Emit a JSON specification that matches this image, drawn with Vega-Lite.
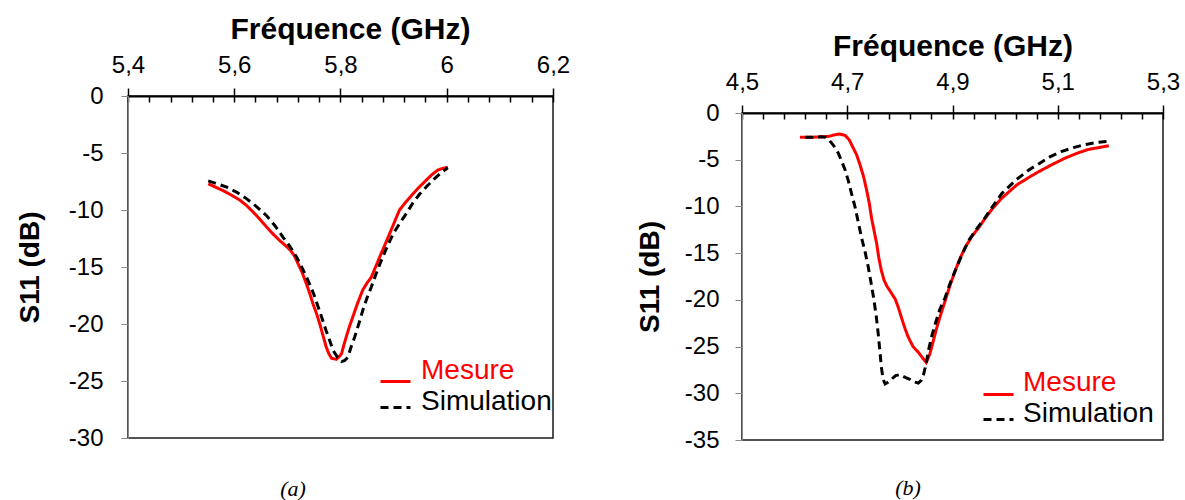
{
  "$schema": "https://vega.github.io/schema/vega-lite/v6.json",
  "background": "white",
  "padding": {"left": 15, "top": 12, "right": 0, "bottom": 0},
  "config": {
    "font": "Liberation Sans",
    "view": {"stroke": "#1a1a1a", "strokeWidth": 1.5},
    "axis": {"grid": false, "labelFont": "Liberation Sans", "titleFont": "Liberation Sans", "labelColor": "#000", "titleColor": "#000"}
  },
  "datasets": {
    "a": [
      {"f": 5.551, "s": -7.7, "serie": "Mesure"},
      {"f": 5.565, "s": -8.0, "serie": "Mesure"},
      {"f": 5.579, "s": -8.3, "serie": "Mesure"},
      {"f": 5.595, "s": -8.7, "serie": "Mesure"},
      {"f": 5.611, "s": -9.15, "serie": "Mesure"},
      {"f": 5.623, "s": -9.6, "serie": "Mesure"},
      {"f": 5.636, "s": -10.2, "serie": "Mesure"},
      {"f": 5.648, "s": -10.8, "serie": "Mesure"},
      {"f": 5.661, "s": -11.5, "serie": "Mesure"},
      {"f": 5.673, "s": -12.1, "serie": "Mesure"},
      {"f": 5.686, "s": -12.7, "serie": "Mesure"},
      {"f": 5.696, "s": -13.1, "serie": "Mesure"},
      {"f": 5.705, "s": -13.5, "serie": "Mesure"},
      {"f": 5.713, "s": -14.0, "serie": "Mesure"},
      {"f": 5.72, "s": -14.7, "serie": "Mesure"},
      {"f": 5.728, "s": -15.5, "serie": "Mesure"},
      {"f": 5.736, "s": -16.5, "serie": "Mesure"},
      {"f": 5.742, "s": -17.3, "serie": "Mesure"},
      {"f": 5.748, "s": -18.2, "serie": "Mesure"},
      {"f": 5.755, "s": -19.1, "serie": "Mesure"},
      {"f": 5.761, "s": -20.0, "serie": "Mesure"},
      {"f": 5.767, "s": -21.0, "serie": "Mesure"},
      {"f": 5.773, "s": -22.0, "serie": "Mesure"},
      {"f": 5.778, "s": -22.6, "serie": "Mesure"},
      {"f": 5.783, "s": -23.0, "serie": "Mesure"},
      {"f": 5.792, "s": -23.1, "serie": "Mesure"},
      {"f": 5.797, "s": -22.9, "serie": "Mesure"},
      {"f": 5.802, "s": -22.6, "serie": "Mesure"},
      {"f": 5.806, "s": -21.9, "serie": "Mesure"},
      {"f": 5.811, "s": -21.1, "serie": "Mesure"},
      {"f": 5.817, "s": -20.2, "serie": "Mesure"},
      {"f": 5.823, "s": -19.4, "serie": "Mesure"},
      {"f": 5.832, "s": -18.2, "serie": "Mesure"},
      {"f": 5.842, "s": -17.0, "serie": "Mesure"},
      {"f": 5.85, "s": -16.4, "serie": "Mesure"},
      {"f": 5.858, "s": -15.9, "serie": "Mesure"},
      {"f": 5.866, "s": -15.0, "serie": "Mesure"},
      {"f": 5.874, "s": -14.1, "serie": "Mesure"},
      {"f": 5.885, "s": -12.9, "serie": "Mesure"},
      {"f": 5.895, "s": -11.8, "serie": "Mesure"},
      {"f": 5.903, "s": -10.9, "serie": "Mesure"},
      {"f": 5.911, "s": -10.0, "serie": "Mesure"},
      {"f": 5.923, "s": -9.3, "serie": "Mesure"},
      {"f": 5.936, "s": -8.6, "serie": "Mesure"},
      {"f": 5.948, "s": -8.0, "serie": "Mesure"},
      {"f": 5.961, "s": -7.4, "serie": "Mesure"},
      {"f": 5.972, "s": -6.9, "serie": "Mesure"},
      {"f": 5.983, "s": -6.5, "serie": "Mesure"},
      {"f": 5.992, "s": -6.35, "serie": "Mesure"},
      {"f": 6.002, "s": -6.25, "serie": "Mesure"},
      {"f": 5.551, "s": -7.45, "serie": "Simulation"},
      {"f": 5.568, "s": -7.7, "serie": "Simulation"},
      {"f": 5.586, "s": -8.0, "serie": "Simulation"},
      {"f": 5.605, "s": -8.45, "serie": "Simulation"},
      {"f": 5.623, "s": -9.0, "serie": "Simulation"},
      {"f": 5.642, "s": -9.7, "serie": "Simulation"},
      {"f": 5.661, "s": -10.5, "serie": "Simulation"},
      {"f": 5.677, "s": -11.4, "serie": "Simulation"},
      {"f": 5.692, "s": -12.4, "serie": "Simulation"},
      {"f": 5.705, "s": -13.2, "serie": "Simulation"},
      {"f": 5.717, "s": -14.1, "serie": "Simulation"},
      {"f": 5.728, "s": -15.1, "serie": "Simulation"},
      {"f": 5.739, "s": -16.2, "serie": "Simulation"},
      {"f": 5.749, "s": -17.3, "serie": "Simulation"},
      {"f": 5.758, "s": -18.5, "serie": "Simulation"},
      {"f": 5.766, "s": -19.6, "serie": "Simulation"},
      {"f": 5.773, "s": -20.6, "serie": "Simulation"},
      {"f": 5.78, "s": -21.5, "serie": "Simulation"},
      {"f": 5.786, "s": -22.3, "serie": "Simulation"},
      {"f": 5.794, "s": -22.9, "serie": "Simulation"},
      {"f": 5.802, "s": -23.3, "serie": "Simulation"},
      {"f": 5.808, "s": -23.2, "serie": "Simulation"},
      {"f": 5.814, "s": -22.9, "serie": "Simulation"},
      {"f": 5.82, "s": -22.0, "serie": "Simulation"},
      {"f": 5.827, "s": -21.1, "serie": "Simulation"},
      {"f": 5.835, "s": -19.9, "serie": "Simulation"},
      {"f": 5.842, "s": -18.8, "serie": "Simulation"},
      {"f": 5.85, "s": -17.7, "serie": "Simulation"},
      {"f": 5.858, "s": -16.75, "serie": "Simulation"},
      {"f": 5.867, "s": -15.6, "serie": "Simulation"},
      {"f": 5.877, "s": -14.4, "serie": "Simulation"},
      {"f": 5.888, "s": -13.2, "serie": "Simulation"},
      {"f": 5.899, "s": -12.1, "serie": "Simulation"},
      {"f": 5.911, "s": -11.2, "serie": "Simulation"},
      {"f": 5.924, "s": -10.3, "serie": "Simulation"},
      {"f": 5.936, "s": -9.4, "serie": "Simulation"},
      {"f": 5.949, "s": -8.6, "serie": "Simulation"},
      {"f": 5.963, "s": -7.9, "serie": "Simulation"},
      {"f": 5.977, "s": -7.25, "serie": "Simulation"},
      {"f": 5.99, "s": -6.7, "serie": "Simulation"},
      {"f": 6.002, "s": -6.3, "serie": "Simulation"}
    ],
    "b": [
      {"f": 4.61, "s": -2.6, "serie": "Mesure"},
      {"f": 4.63, "s": -2.6, "serie": "Mesure"},
      {"f": 4.65, "s": -2.55, "serie": "Mesure"},
      {"f": 4.665, "s": -2.5, "serie": "Mesure"},
      {"f": 4.675, "s": -2.35, "serie": "Mesure"},
      {"f": 4.685, "s": -2.25, "serie": "Mesure"},
      {"f": 4.696, "s": -2.4, "serie": "Mesure"},
      {"f": 4.704, "s": -2.9, "serie": "Mesure"},
      {"f": 4.711, "s": -3.7, "serie": "Mesure"},
      {"f": 4.718, "s": -4.5, "serie": "Mesure"},
      {"f": 4.724, "s": -5.5, "serie": "Mesure"},
      {"f": 4.731, "s": -6.8, "serie": "Mesure"},
      {"f": 4.737, "s": -8.3, "serie": "Mesure"},
      {"f": 4.742, "s": -9.7, "serie": "Mesure"},
      {"f": 4.746, "s": -11.2, "serie": "Mesure"},
      {"f": 4.751, "s": -12.6, "serie": "Mesure"},
      {"f": 4.756, "s": -14.0, "serie": "Mesure"},
      {"f": 4.76, "s": -15.5, "serie": "Mesure"},
      {"f": 4.765, "s": -16.9, "serie": "Mesure"},
      {"f": 4.77, "s": -17.9, "serie": "Mesure"},
      {"f": 4.775, "s": -18.5, "serie": "Mesure"},
      {"f": 4.783, "s": -19.2, "serie": "Mesure"},
      {"f": 4.791, "s": -19.9, "serie": "Mesure"},
      {"f": 4.797, "s": -20.8, "serie": "Mesure"},
      {"f": 4.803, "s": -21.9, "serie": "Mesure"},
      {"f": 4.81, "s": -23.1, "serie": "Mesure"},
      {"f": 4.816, "s": -24.0, "serie": "Mesure"},
      {"f": 4.825, "s": -25.0, "serie": "Mesure"},
      {"f": 4.835, "s": -25.6, "serie": "Mesure"},
      {"f": 4.843, "s": -26.2, "serie": "Mesure"},
      {"f": 4.85, "s": -26.7, "serie": "Mesure"},
      {"f": 4.857, "s": -25.8, "serie": "Mesure"},
      {"f": 4.863, "s": -24.5, "serie": "Mesure"},
      {"f": 4.87, "s": -23.0, "serie": "Mesure"},
      {"f": 4.878, "s": -21.5, "serie": "Mesure"},
      {"f": 4.886, "s": -20.1, "serie": "Mesure"},
      {"f": 4.895, "s": -18.5, "serie": "Mesure"},
      {"f": 4.905, "s": -16.9, "serie": "Mesure"},
      {"f": 4.914, "s": -15.6, "serie": "Mesure"},
      {"f": 4.924, "s": -14.4, "serie": "Mesure"},
      {"f": 4.937, "s": -13.2, "serie": "Mesure"},
      {"f": 4.95, "s": -12.25, "serie": "Mesure"},
      {"f": 4.963, "s": -11.2, "serie": "Mesure"},
      {"f": 4.975, "s": -10.3, "serie": "Mesure"},
      {"f": 4.994, "s": -9.1, "serie": "Mesure"},
      {"f": 5.022, "s": -7.7, "serie": "Mesure"},
      {"f": 5.045, "s": -6.9, "serie": "Mesure"},
      {"f": 5.065, "s": -6.25, "serie": "Mesure"},
      {"f": 5.09, "s": -5.5, "serie": "Mesure"},
      {"f": 5.115, "s": -4.8, "serie": "Mesure"},
      {"f": 5.137, "s": -4.3, "serie": "Mesure"},
      {"f": 5.158, "s": -3.9, "serie": "Mesure"},
      {"f": 5.178, "s": -3.7, "serie": "Mesure"},
      {"f": 5.197, "s": -3.5, "serie": "Mesure"},
      {"f": 4.62, "s": -2.6, "serie": "Simulation"},
      {"f": 4.64, "s": -2.6, "serie": "Simulation"},
      {"f": 4.651, "s": -2.55, "serie": "Simulation"},
      {"f": 4.658, "s": -2.6, "serie": "Simulation"},
      {"f": 4.664, "s": -2.8, "serie": "Simulation"},
      {"f": 4.67, "s": -3.2, "serie": "Simulation"},
      {"f": 4.677, "s": -3.7, "serie": "Simulation"},
      {"f": 4.683, "s": -4.3, "serie": "Simulation"},
      {"f": 4.689, "s": -5.1, "serie": "Simulation"},
      {"f": 4.696, "s": -6.1, "serie": "Simulation"},
      {"f": 4.702, "s": -7.25, "serie": "Simulation"},
      {"f": 4.708, "s": -8.6, "serie": "Simulation"},
      {"f": 4.715, "s": -10.1, "serie": "Simulation"},
      {"f": 4.721, "s": -11.7, "serie": "Simulation"},
      {"f": 4.727, "s": -13.3, "serie": "Simulation"},
      {"f": 4.734, "s": -14.9, "serie": "Simulation"},
      {"f": 4.74, "s": -16.5, "serie": "Simulation"},
      {"f": 4.745, "s": -18.1, "serie": "Simulation"},
      {"f": 4.75, "s": -19.75, "serie": "Simulation"},
      {"f": 4.755, "s": -21.7, "serie": "Simulation"},
      {"f": 4.759, "s": -23.7, "serie": "Simulation"},
      {"f": 4.762, "s": -25.5, "serie": "Simulation"},
      {"f": 4.765, "s": -27.25, "serie": "Simulation"},
      {"f": 4.768, "s": -28.5, "serie": "Simulation"},
      {"f": 4.772, "s": -29.0, "serie": "Simulation"},
      {"f": 4.778, "s": -28.8, "serie": "Simulation"},
      {"f": 4.784, "s": -28.5, "serie": "Simulation"},
      {"f": 4.792, "s": -28.1, "serie": "Simulation"},
      {"f": 4.8, "s": -28.0, "serie": "Simulation"},
      {"f": 4.81, "s": -28.3, "serie": "Simulation"},
      {"f": 4.819, "s": -28.5, "serie": "Simulation"},
      {"f": 4.828, "s": -28.8, "serie": "Simulation"},
      {"f": 4.835, "s": -28.9, "serie": "Simulation"},
      {"f": 4.841, "s": -28.6, "serie": "Simulation"},
      {"f": 4.845, "s": -28.0, "serie": "Simulation"},
      {"f": 4.85, "s": -26.8, "serie": "Simulation"},
      {"f": 4.854, "s": -25.5, "serie": "Simulation"},
      {"f": 4.86, "s": -24.0, "serie": "Simulation"},
      {"f": 4.867, "s": -22.6, "serie": "Simulation"},
      {"f": 4.876, "s": -21.0, "serie": "Simulation"},
      {"f": 4.886, "s": -19.75, "serie": "Simulation"},
      {"f": 4.895, "s": -18.3, "serie": "Simulation"},
      {"f": 4.905, "s": -16.9, "serie": "Simulation"},
      {"f": 4.917, "s": -15.3, "serie": "Simulation"},
      {"f": 4.93, "s": -13.7, "serie": "Simulation"},
      {"f": 4.946, "s": -12.4, "serie": "Simulation"},
      {"f": 4.962, "s": -11.2, "serie": "Simulation"},
      {"f": 4.975, "s": -10.1, "serie": "Simulation"},
      {"f": 4.994, "s": -8.6, "serie": "Simulation"},
      {"f": 5.022, "s": -7.1, "serie": "Simulation"},
      {"f": 5.045, "s": -6.1, "serie": "Simulation"},
      {"f": 5.065, "s": -5.4, "serie": "Simulation"},
      {"f": 5.085, "s": -4.7, "serie": "Simulation"},
      {"f": 5.108, "s": -4.1, "serie": "Simulation"},
      {"f": 5.13, "s": -3.7, "serie": "Simulation"},
      {"f": 5.15, "s": -3.4, "serie": "Simulation"},
      {"f": 5.175, "s": -3.15, "serie": "Simulation"},
      {"f": 5.2, "s": -3.0, "serie": "Simulation"}
    ]
  },
  "spacing": 64,
  "resolve": {"scale": {"color": "independent", "strokeDash": "independent"}, "legend": {"color": "independent", "strokeDash": "independent"}},
  "hconcat": [
    {
      "spacing": 0,
      "resolve": {"scale": {"color": "independent", "strokeDash": "independent"}, "legend": {"color": "independent", "strokeDash": "independent"}},
      "vconcat": [
        {
          "width": 425,
          "height": 1,
          "data": {"values": [{"v": 0}]},
          "mark": {"type": "point", "opacity": 0, "size": 0},
          "encoding": {},
          "view": {"stroke": null}
        },
        {
          "width": 425,
          "height": 342,
          "data": {"name": "a"},
          "title": {"text": "(a)", "orient": "bottom", "anchor": "middle", "frame": "bounds", "font": "Liberation Serif", "fontStyle": "italic", "fontWeight": "normal", "fontSize": 22, "offset": 29, "baseline": "top", "color": "#000"},
          "resolve": {"axis": {"x": "independent"}},
          "layer": [
            {
              "mark": {"type": "line", "strokeWidth": 3},
              "encoding": {
                "x": {"field": "f", "type": "quantitative", "scale": {"domain": [5.4, 6.2], "nice": false, "zero": false},
                  "axis": {"orient": "top", "values": [5.4, 5.6, 5.8, 6, 6.2], "labelExpr": "replace('' + datum.value, '.', ',')", "title": "Fréquence (GHz)", "titleX": 222, "titleFontSize": 30, "titleFontWeight": "bold", "titlePadding": 9, "labelFontSize": 24, "labelPadding": 11, "tickSize": 8, "tickColor": "#000", "tickWidth": 1.5, "domainColor": "#000", "domainWidth": 2, "labelFlush": false}},
                "y": {"field": "s", "type": "quantitative", "scale": {"domain": [-30, 0], "nice": false},
                  "axis": {"values": [0, -5, -10, -15, -20, -25, -30], "labelExpr": "'' + datum.value", "title": "S11 (dB)", "titleFontSize": 28, "titleFontWeight": "bold", "titlePadding": 24, "labelFontSize": 24, "labelPadding": 18, "tickSize": 7, "tickColor": "#888", "domainColor": "#888", "labelFlush": false}},
                "color": {"field": "serie", "type": "nominal", "scale": {"domain": ["Mesure", "Simulation"], "range": ["#ff0000", "#000000"]},
                  "legend": {"orient": "none", "legendX": 251, "legendY": 269, "title": null, "symbolType": "stroke", "symbolSize": 900, "symbolStrokeWidth": 3, "labelFontSize": 28, "labelOffset": 9, "rowPadding": -1, "labelBaseline": "alphabetic", "padding": 0,
                    "encode": {"labels": {"update": {"fill": {"signal": "datum.value === 'Mesure' ? '#ff0000' : '#000000'"}, "dy": {"signal": "datum.value === 'Mesure' ? -3 : 2"}}}, "symbols": {"update": {"strokeDash": {"signal": "datum.value === 'Simulation' ? [3, 5] : [1, 0]"}}}}}},
                "strokeDash": {"field": "serie", "type": "nominal", "scale": {"domain": ["Mesure", "Simulation"], "range": [[1, 0], [8, 5]]},
                  "legend": {"orient": "none", "legendX": 251, "legendY": 269, "title": null, "symbolType": "stroke", "symbolSize": 900, "symbolStrokeWidth": 3, "labelFontSize": 28, "labelOffset": 9, "rowPadding": -1, "labelBaseline": "alphabetic", "padding": 0,
                    "encode": {"labels": {"update": {"fill": {"signal": "datum.value === 'Mesure' ? '#ff0000' : '#000000'"}, "dy": {"signal": "datum.value === 'Mesure' ? -3 : 2"}}}, "symbols": {"update": {"strokeDash": {"signal": "datum.value === 'Simulation' ? [3, 5] : [1, 0]"}}}}}}
              }
            },
            {
              "mark": {"type": "point", "opacity": 0},
              "encoding": {
                "x": {"field": "f", "type": "quantitative",
                  "axis": {"orient": "top", "values": [5.4, 5.44, 5.48, 5.52, 5.56, 5.6, 5.64, 5.68, 5.72, 5.76, 5.8, 5.84, 5.88, 5.92, 5.96, 6.0, 6.04, 6.08, 6.12, 6.16, 6.2], "labels": false, "domain": false, "title": null, "tickSize": -6, "tickColor": "#000", "tickWidth": 1.5}}
              }
            }
          ]
        }
      ]
    },
    {
      "spacing": 0,
      "resolve": {"scale": {"color": "independent", "strokeDash": "independent"}, "legend": {"color": "independent", "strokeDash": "independent"}},
      "vconcat": [
        {
          "width": 421,
          "height": 18,
          "data": {"values": [{"v": 0}]},
          "mark": {"type": "point", "opacity": 0, "size": 0},
          "encoding": {},
          "view": {"stroke": null}
        },
        {
          "width": 421,
          "height": 327,
          "data": {"name": "b"},
          "title": {"text": "(b)", "orient": "bottom", "anchor": "middle", "frame": "bounds", "font": "Liberation Serif", "fontStyle": "italic", "fontWeight": "normal", "fontSize": 22, "offset": 26, "baseline": "top", "color": "#000"},
          "resolve": {"axis": {"x": "independent"}},
          "layer": [
            {
              "mark": {"type": "line", "strokeWidth": 3},
              "encoding": {
                "x": {"field": "f", "type": "quantitative", "scale": {"domain": [4.5, 5.3], "nice": false, "zero": false},
                  "axis": {"orient": "top", "values": [4.5, 4.7, 4.9, 5.1, 5.3], "labelExpr": "replace('' + datum.value, '.', ',')", "title": "Fréquence (GHz)", "titleFontSize": 30, "titleFontWeight": "bold", "titlePadding": 9, "labelFontSize": 24, "labelPadding": 11, "tickSize": 8, "tickColor": "#000", "tickWidth": 1.5, "domainColor": "#000", "domainWidth": 2, "labelFlush": false}},
                "y": {"field": "s", "type": "quantitative", "scale": {"domain": [-35, 0], "nice": false},
                  "axis": {"values": [0, -5, -10, -15, -20, -25, -30, -35], "labelExpr": "'' + datum.value", "title": "S11 (dB)", "titleFontSize": 28, "titleFontWeight": "bold", "titlePadding": 20, "labelFontSize": 24, "labelPadding": 16, "tickSize": 7, "tickColor": "#888", "domainColor": "#888", "labelFlush": false}},
                "color": {"field": "serie", "type": "nominal", "scale": {"domain": ["Mesure", "Simulation"], "range": ["#ff0000", "#000000"]},
                  "legend": {"orient": "none", "legendX": 240, "legendY": 265, "title": null, "symbolType": "stroke", "symbolSize": 900, "symbolStrokeWidth": 3, "labelFontSize": 28, "labelOffset": 8, "rowPadding": -2, "labelBaseline": "alphabetic", "padding": 0,
                    "encode": {"labels": {"update": {"fill": {"signal": "datum.value === 'Mesure' ? '#ff0000' : '#000000'"}, "dy": {"signal": "datum.value === 'Mesure' ? -4 : 2"}}}, "symbols": {"update": {"strokeDash": {"signal": "datum.value === 'Simulation' ? [3, 5] : [1, 0]"}}}}}},
                "strokeDash": {"field": "serie", "type": "nominal", "scale": {"domain": ["Mesure", "Simulation"], "range": [[1, 0], [8, 5]]},
                  "legend": {"orient": "none", "legendX": 240, "legendY": 265, "title": null, "symbolType": "stroke", "symbolSize": 900, "symbolStrokeWidth": 3, "labelFontSize": 28, "labelOffset": 8, "rowPadding": -2, "labelBaseline": "alphabetic", "padding": 0,
                    "encode": {"labels": {"update": {"fill": {"signal": "datum.value === 'Mesure' ? '#ff0000' : '#000000'"}, "dy": {"signal": "datum.value === 'Mesure' ? -4 : 2"}}}, "symbols": {"update": {"strokeDash": {"signal": "datum.value === 'Simulation' ? [3, 5] : [1, 0]"}}}}}}
              }
            },
            {
              "mark": {"type": "point", "opacity": 0},
              "encoding": {
                "x": {"field": "f", "type": "quantitative",
                  "axis": {"orient": "top", "values": [4.5, 4.54, 4.58, 4.62, 4.66, 4.7, 4.74, 4.78, 4.82, 4.86, 4.9, 4.94, 4.98, 5.02, 5.06, 5.1, 5.14, 5.18, 5.22, 5.26, 5.3], "labels": false, "domain": false, "title": null, "tickSize": -6, "tickColor": "#000", "tickWidth": 1.5}}
              }
            }
          ]
        }
      ]
    }
  ]
}
